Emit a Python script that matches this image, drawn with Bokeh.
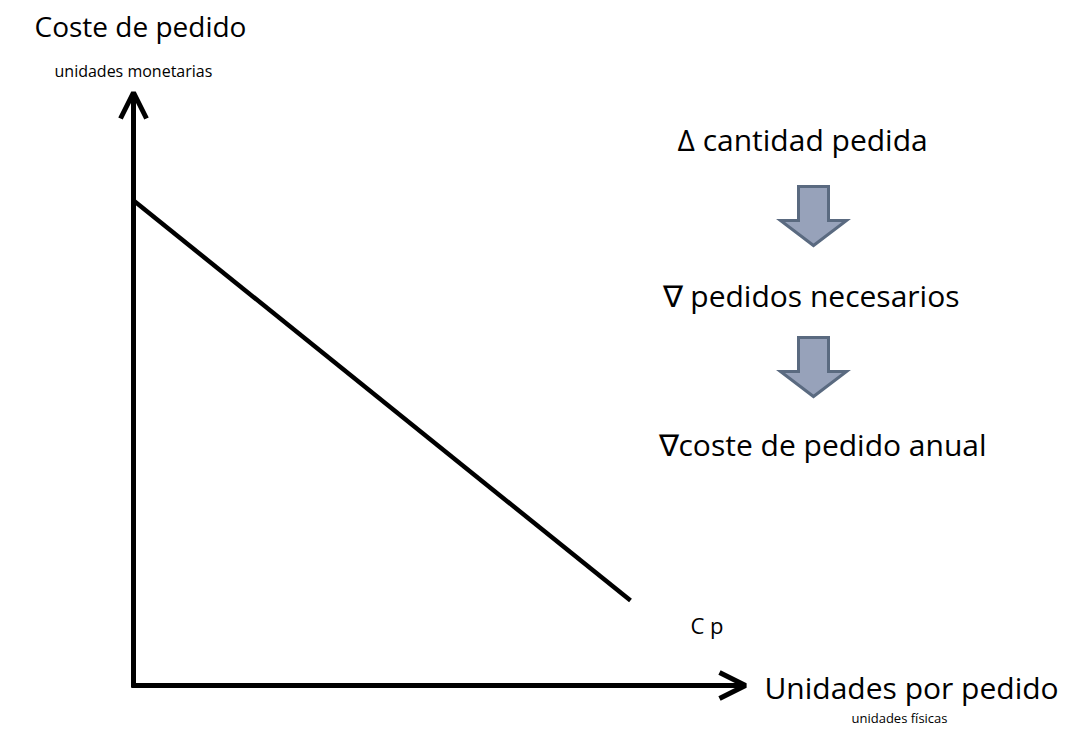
from bokeh.plotting import figure
from bokeh.models import Range1d, Arrow, OpenHead, Label
from bokeh.embed import file_html
from bokeh.resources import INLINE

# ---- data (diagram values, in units from the origin) ----
cost_x = [0, 497]          # unidades por pedido
cost_y = [485, 85]         # coste de pedido
x_axis_len = 612
y_axis_len = 593

# block arrows: top of each shaft
arrow_tops = [499, 348]
arrow_center_x = 680

title_y = "Coste de pedido"
unit_y = "unidades monetarias"
title_x = "Unidades por pedido"
unit_x = "unidades físicas"
curve_label = "C p"
steps = ["Δ cantidad pedida", "∇ pedidos necesarios", "∇coste de pedido anual"]

FONT = "Open Sans"

p = figure(width=1076, height=736, output_backend="svg", toolbar_location=None,
           x_range=Range1d(-133, 943), y_range=Range1d(-51, 685), min_border=0)
p.axis.visible = False
p.grid.visible = False
p.outline_line_color = None
p.background_fill_color = "white"
p.border_fill_color = "white"

# axes with open arrowheads
p.add_layout(Arrow(end=OpenHead(size=26, line_width=5, line_color="black"),
                   x_start=0, y_start=-2, x_end=0, y_end=y_axis_len,
                   line_width=5, line_color="black"))
p.add_layout(Arrow(end=OpenHead(size=26, line_width=5, line_color="black"),
                   x_start=-2, y_start=0, x_end=x_axis_len, y_end=0,
                   line_width=5, line_color="black"))

# cost line
p.line(cost_x, cost_y, line_width=4.5, line_color="black")

# block arrows
shaft_half = 15
head_half = 33
shaft_len = 34
head_len = 25
xs, ys = [], []
for top in arrow_tops:
    cx = arrow_center_x
    hs = top - shaft_len
    tip = hs - head_len
    xs.append([cx - shaft_half, cx + shaft_half, cx + shaft_half, cx + head_half,
               cx, cx - head_half, cx - shaft_half])
    ys.append([top, top, hs, hs, tip, hs, hs])
p.patches(xs, ys, fill_color="#97A2BA", line_color="#5A6A80", line_width=3,
          line_join="miter")

def lab(text, x, y, size):
    p.add_layout(Label(x=x, y=y, text=text, text_font=FONT, text_font_size=size,
                       text_color="black", text_baseline="alphabetic"))

lab(title_y, -99, 660, "28px")
lab(unit_y, -79, 615, "16px")
lab(steps[0], 544, 546, "30px")
lab(steps[1], 529, 390, "30px")
lab(steps[2], 525, 241, "30px")
lab(curve_label, 557, 61, "22px")
lab(title_x, 631, -2, "30px")
lab(unit_x, 718, -32, "13px")

open("out.html", "w").write(file_html(p, INLINE))
